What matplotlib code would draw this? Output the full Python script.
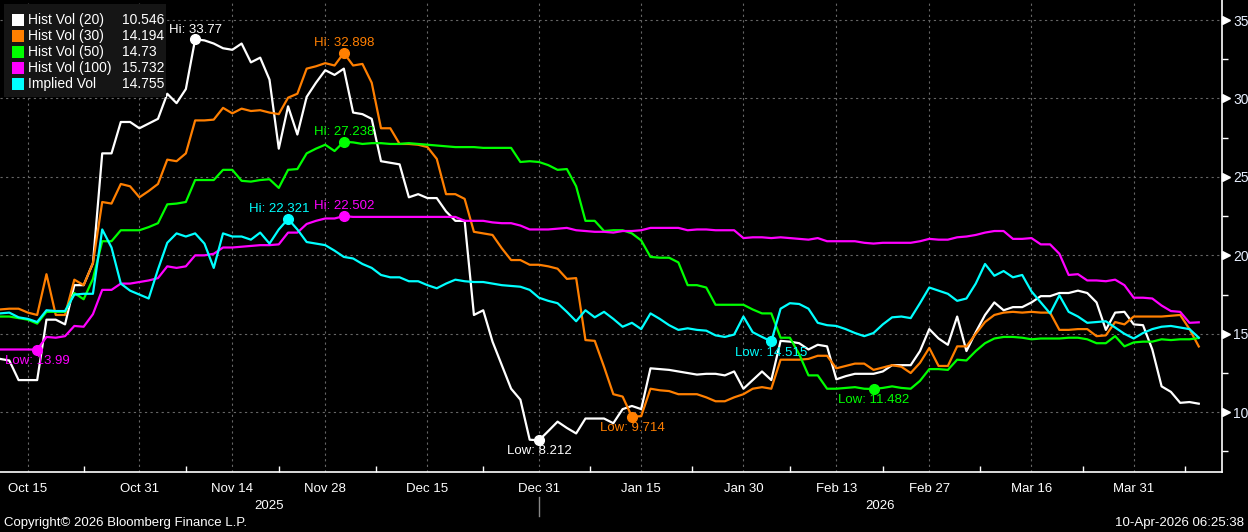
import numpy as np
import pandas as pd
import matplotlib
matplotlib.use("Agg")
import matplotlib.pyplot as plt
import matplotlib.transforms as mtransforms
from matplotlib.patches import Rectangle
from matplotlib.lines import Line2D

# ---- data ----
dates = pd.bdate_range("2025-10-10", "2026-04-09")

hv20 = [13.4, 13.3, 12.05, 12.05, 12.05, 15.9, 15.9, 15.6, 18.1, 18.1,
        19.5, 26.5, 26.5, 28.5, 28.5, 28.1, 28.4, 28.7, 30.3, 29.7,
        30.6, 33.77, 33.7, 33.5, 33.2, 33.1, 33.5, 32.3, 32.6, 31.2,
        26.8, 29.5, 27.7, 30.1, 31.0, 31.8, 31.5, 31.9, 29.1, 29.0,
        28.7, 26.0, 25.9, 25.8, 23.7, 23.9, 23.65, 23.65, 22.8, 22.2,
        22.2, 16.2, 16.5, 14.5, 13.0, 11.5, 10.8, 8.25, 8.212, 8.8,
        9.4, 9.0, 8.65, 9.6, 9.6, 9.6, 9.3, 10.2, 10.4, 10.2,
        12.8, 12.75, 12.7, 12.6, 12.5, 12.4, 12.45, 12.45, 12.35, 12.6,
        11.5, 12.05, 12.6, 12.05, 14.55, 14.5, 14.4, 14.0, 14.3, 14.2,
        12.1, 12.3, 12.45, 12.45, 12.45, 12.6, 13.0, 13.0, 13.0, 13.9,
        15.3, 14.7, 14.3, 16.1, 13.9, 15.1, 16.2, 17.0, 16.5, 16.7,
        16.7, 17.0, 17.4, 17.4, 17.6, 17.6, 17.75, 17.6, 17.0, 15.25,
        16.35, 16.4, 15.6, 15.55, 14.0, 11.65, 11.3, 10.6, 10.65, 10.546]

hv30 = [16.55, 16.6, 16.6, 16.35, 16.2, 18.8, 16.2, 16.2, 18.45, 18.1,
        19.5, 23.4, 23.3, 24.55, 24.4, 23.7, 24.1, 24.55, 26.1, 26.0,
        26.5, 28.6, 28.6, 28.65, 29.4, 29.05, 29.35, 29.2, 29.25, 29.1,
        29.0, 30.05, 30.3, 31.9, 32.05, 32.25, 32.1, 32.898, 32.1, 32.2,
        31.0, 28.1, 28.1, 27.1, 27.1, 27.05, 26.9, 26.15, 23.9, 23.9,
        23.6, 21.5, 21.4, 21.3, 20.45, 19.7, 19.7, 19.4, 19.4, 19.3,
        19.15, 18.5, 18.55, 14.6, 14.55, 12.9, 11.15, 11.0, 9.714, 9.75,
        11.5, 11.4, 11.35, 11.15, 11.15, 11.15, 10.95, 10.7, 10.7, 10.95,
        11.15, 11.5, 11.6, 11.5, 13.35, 13.35, 13.35, 13.4, 13.6, 13.6,
        12.8, 12.95, 13.1, 13.1, 12.7, 12.85, 13.0, 12.9, 12.5, 13.15,
        14.1, 12.95, 12.95, 14.2, 14.2, 15.0, 15.75, 16.2, 16.35, 16.4,
        16.35, 16.4, 16.35, 16.35, 15.25, 15.25, 15.3, 15.3, 14.85, 14.9,
        15.75, 15.6, 16.1, 16.1, 16.1, 16.1, 16.15, 16.2, 15.3, 14.194]

hv50 = [16.1, 16.1, 16.0, 15.9, 15.65, 16.4, 16.4, 16.4, 17.6, 17.2,
        18.5, 20.9, 20.9, 21.6, 21.6, 21.6, 21.8, 22.05, 23.25, 23.3,
        23.4, 24.8, 24.8, 24.8, 25.45, 25.45, 24.75, 24.7, 24.8, 24.85,
        24.3, 25.45, 25.5, 26.5, 26.8, 27.05, 26.65, 27.238, 27.2, 27.1,
        27.15, 27.15, 27.1, 27.1, 27.15, 27.1, 27.05, 27.0, 26.95, 26.9,
        26.9, 26.9, 26.85, 26.85, 26.85, 26.85, 25.95, 26.0, 25.95, 25.75,
        25.45, 25.5, 24.4, 22.2, 22.2, 21.55, 21.6, 21.6, 21.4, 20.95,
        19.9, 19.85, 19.85, 19.55, 18.1, 18.1, 17.95, 16.85, 16.85, 16.85,
        16.85, 16.55, 16.3, 16.3, 14.75, 14.75, 13.7, 12.35, 12.35, 11.5,
        11.5, 11.55, 11.6, 11.5, 11.482, 11.55, 11.65, 11.55, 11.5, 12.0,
        12.75, 12.75, 12.7, 13.35, 13.3, 13.9, 14.4, 14.7, 14.8, 14.8,
        14.75, 14.65, 14.7, 14.7, 14.7, 14.75, 14.75, 14.65, 14.4, 14.4,
        14.85, 14.2, 14.45, 14.5, 14.5, 14.65, 14.6, 14.65, 14.65, 14.73]

hv100 = [14.0, 14.0, 14.0, 14.0, 13.99, 14.8, 14.75, 14.85, 15.5, 15.45,
         16.25, 17.8, 17.8, 18.2, 18.2, 18.3, 18.4, 18.55, 19.3, 19.2,
         19.3, 20.0, 20.0, 20.1, 20.5, 20.5, 20.55, 20.6, 20.65, 20.65,
         20.7, 21.45, 21.45, 22.0, 22.2, 22.35, 22.35, 22.502, 22.45, 22.45,
         22.45, 22.45, 22.45, 22.45, 22.45, 22.45, 22.45, 22.45, 22.45, 22.45,
         22.2, 22.2, 22.2, 22.1, 22.05, 22.05, 21.9, 21.65, 21.65, 21.65,
         21.7, 21.75, 21.6, 21.55, 21.5, 21.5, 21.45, 21.55, 21.55, 21.6,
         21.75, 21.75, 21.75, 21.75, 21.6, 21.65, 21.65, 21.6, 21.6, 21.6,
         21.1, 21.15, 21.15, 21.1, 21.15, 21.1, 21.05, 21.0, 21.1, 20.9,
         20.9, 20.9, 20.9, 20.8, 20.75, 20.8, 20.8, 20.8, 20.8, 20.9,
         21.05, 21.0, 21.0, 21.15, 21.2, 21.3, 21.45, 21.55, 21.55, 21.05,
         21.05, 21.1, 20.7, 20.7, 20.1, 18.75, 18.8, 18.4, 18.4, 18.35,
         18.45, 18.1, 17.3, 17.3, 17.25, 16.8, 16.45, 16.4, 15.7, 15.732]

ivol = [16.3, 16.35, 16.05, 15.95, 15.75, 16.5, 16.45, 16.45, 17.5, 17.55,
        17.55, 21.65, 20.5, 18.2, 17.75, 17.5, 17.25, 19.1, 20.8, 21.4,
        21.2, 21.4, 20.75, 19.2, 21.4, 21.2, 21.2, 21.0, 21.45, 20.75,
        21.65, 22.321, 21.65, 20.85, 20.75, 20.65, 20.3, 19.9, 19.8, 19.45,
        19.2, 18.75, 18.6, 18.6, 18.35, 18.35, 18.1, 17.9, 18.2, 18.45,
        18.35, 18.3, 18.3, 18.2, 18.1, 18.05, 18.0, 17.8, 17.3, 17.1,
        16.95, 16.4, 15.8, 16.5, 16.05, 16.4, 15.95, 15.45, 15.7, 15.3,
        16.3, 15.95, 15.55, 15.25, 15.35, 15.25, 15.2, 14.9, 14.8, 14.95,
        16.1, 15.1, 14.8, 14.515, 16.6, 16.95, 16.9, 16.6, 15.7, 15.55,
        15.5, 15.3, 15.05, 14.85, 15.05, 15.6, 16.05, 16.1, 16.0, 16.95,
        17.95, 17.75, 17.55, 17.1, 17.25, 18.2, 19.45, 18.7, 19.0, 18.6,
        18.75, 17.7, 17.0, 16.3, 17.45, 16.4, 16.1, 15.7, 15.75, 15.8,
        15.4, 15.0, 14.7, 15.05, 15.3, 15.45, 15.5, 15.4, 15.3, 14.755]

labels = ["Hist Vol (20)", "Hist Vol (30)", "Hist Vol (50)", "Hist Vol (100)", "Implied Vol"]
colors = ["#ffffff", "#ff7f00", "#00ff00", "#ff00ff", "#00ffff"]

tick_dates = ["2025-10-15", "2025-10-31", "2025-11-14", "2025-11-28", "2025-12-15",
              "2025-12-31", "2026-01-15", "2026-01-30", "2026-02-13", "2026-02-27",
              "2026-03-16", "2026-03-31"]
y_ticks = [10, 15, 20, 25, 30, 35]

# ---- figure (pixel layout of the screen grab) ----
W, H = 1248, 532
AX_RIGHT, AX_BOTTOM = 1222, 472

plt.rcParams["font.family"] = ["Liberation Sans", "DejaVu Sans"]
fig = plt.figure(figsize=(W / 100, H / 100), dpi=100, facecolor="black")
ax = fig.add_axes([0, 1 - AX_BOTTOM / H, AX_RIGHT / W, AX_BOTTOM / H])
ax.set_facecolor("black")


def fx(px):
    return px / W


def fy(py):
    return 1 - py / H


x = np.arange(len(dates))
series = [hv20, hv30, hv50, hv100, ivol]
for vals, col in zip(series, colors):
    ax.plot(x, vals, color=col, lw=1.6, zorder=3)

ax.set_xlim(0, 131.5)
px_per_unit = 15.69
ax.set_ylim(35 - (AX_BOTTOM - 20) / px_per_unit, 35 + 20 / px_per_unit)

for s in ["left", "top"]:
    ax.spines[s].set_visible(False)
for s in ["right", "bottom"]:
    ax.spines[s].set_color("white")
    ax.spines[s].set_linewidth(1.2)

# x axis
tick_idx = [dates.get_loc(pd.Timestamp(d)) for d in tick_dates]
ax.set_xticks(tick_idx)
ax.set_xticklabels([pd.Timestamp(d).strftime("%b %d") for d in tick_dates])
minor_idx = [(a + b) / 2 for a, b in zip(tick_idx[:-1], tick_idx[1:])]
minor_idx.append(tick_idx[-1] + 5.5)
ax.set_xticks(minor_idx, minor=True)
ax.tick_params(axis="x", which="major", length=0, pad=8, labelsize=9.5, labelcolor="white")
ax.tick_params(axis="x", which="minor", direction="in", length=4, width=1, color="white")

# y axis on the right
ax.yaxis.tick_right()
ax.set_yticks(y_ticks)
ax.set_yticks([t - 2.5 for t in y_ticks], minor=True)
ax.tick_params(axis="y", which="major", length=0, pad=8, labelsize=10, labelcolor="#e8f0ff")
ax.tick_params(axis="y", which="minor", direction="out", length=4, width=1, color="white")
tri = ax.get_yaxis_transform() + mtransforms.ScaledTranslation(0.04, 0, fig.dpi_scale_trans)
ax.plot([1.0] * len(y_ticks), y_ticks, ls="none", marker=">", ms=6, color="white",
        transform=tri, clip_on=False)

ax.grid(True, which="major", color="#666666", ls=(0, (2, 3)), lw=0.8)
ax.set_axisbelow(True)

# Hi / Low markers
lab_kw = dict(textcoords="offset points", ha="center", va="center", fontsize=9.5, zorder=5)
for vals, col in zip(series, colors):
    v = np.array(vals)
    hi, lo = int(v.argmax()), int(v.argmin())
    ax.plot([hi, lo], [v[hi], v[lo]], ls="none", marker="o", ms=7, color=col, zorder=4)
    dx = -6 if col == "#00ffff" else 0
    ax.annotate(f"Hi: {v[hi]:g}", (hi, v[hi]), xytext=(dx, 7), color=col, **lab_kw)
    ax.annotate(f"Low: {v[lo]:g}", (lo, v[lo]), xytext=(0, -8), color=col, **lab_kw)

# legend box
fig.patches.append(Rectangle((fx(4), fy(97)), fx(162), 93 / H, transform=fig.transFigure,
                             facecolor="#151515", edgecolor="none", zorder=6))
for k, (lab, vals, col) in enumerate(zip(labels, series, colors)):
    yy = 20 + k * 16
    fig.patches.append(Rectangle((fx(12), fy(yy + 6)), fx(12), 12 / H, transform=fig.transFigure,
                                 facecolor=col, edgecolor="none", zorder=7))
    fig.text(fx(28), fy(yy), lab, color="white", fontsize=10, va="center", zorder=8)
    fig.text(fx(122), fy(yy), f"{vals[-1]:g}", color="white", fontsize=10, va="center", zorder=8)

# year labels under the date axis
split = dates.get_loc(pd.Timestamp("2025-12-31"))
to_px = lambda i: i / 131.5 * AX_RIGHT
fig.text(fx(to_px(split) / 2), fy(506), "2025", color="white", fontsize=9.5, ha="center", va="center")
fig.text(fx((to_px(split) + AX_RIGHT) / 2), fy(506), "2026", color="white", fontsize=9.5,
         ha="center", va="center")
fig.lines.append(Line2D([fx(to_px(split))] * 2, [fy(497), fy(516)], transform=fig.transFigure,
                        color="#888888", lw=1))

fig.text(fx(4), fy(523), "Copyright\u00a9 2026 Bloomberg Finance L.P.", color="white",
         fontsize=9.5, va="center")
fig.text(fx(1244), fy(523), "10-Apr-2026 06:25:38", color="white", fontsize=9.5,
         ha="right", va="center")

fig.savefig("out.png", dpi=100, facecolor="black")
